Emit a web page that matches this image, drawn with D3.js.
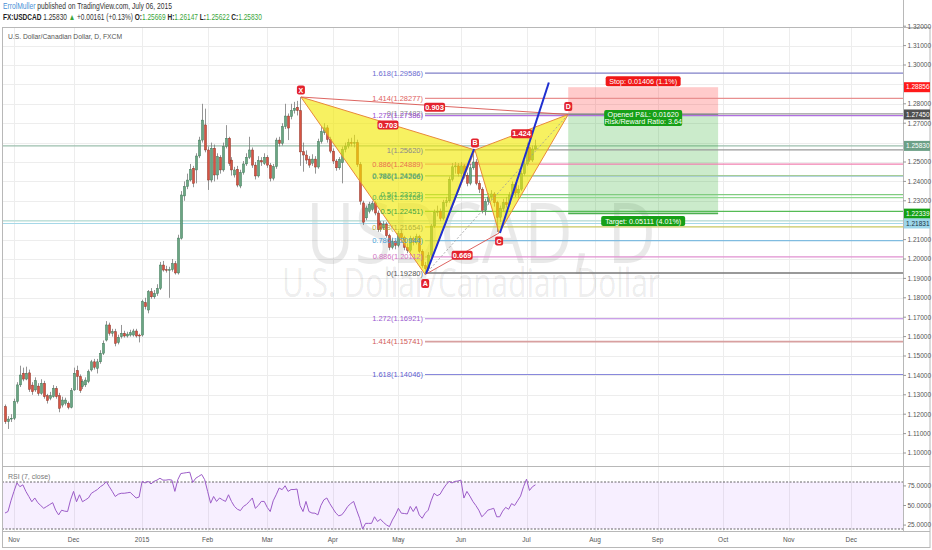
<!DOCTYPE html>
<html><head><meta charset="utf-8">
<script src="https://cdn.jsdelivr.net/npm/d3@7"></script>
<style>body{margin:0;background:#fff;} svg{display:block;font-family:"Liberation Sans",Arial,sans-serif;}</style>
</head><body><svg id="c" width="932" height="550"></svg>
<script>
// ---------- DATA ----------
const startDate = "2014-10-29"; // first bar (trading-day index 0)
const opens = [1.1239,1.1161,1.1175,1.1179,1.1265,1.1351,1.1411,1.1381,1.1413,1.1350,1.1325,1.1345,1.1307,1.1359,1.1295,1.1282,1.1290,1.1333,1.1295,1.1247,1.1256,1.1256,1.1235,1.1325,1.1425,1.1394,1.1342,1.1351,1.1368,1.1428,1.1470,1.1436,1.1470,1.1514,1.1582,1.1660,1.1617,1.1625,1.1569,1.1599,1.1617,1.1603,1.1608,1.1608,1.1629,1.1608,1.1608,1.1775,1.1737,1.1831,1.1805,1.1822,1.1848,1.1969,1.1945,1.1941,1.1945,1.1976,1.1928,1.2107,1.2325,1.2373,1.2407,1.2468,1.2459,1.2531,1.2613,1.2691,1.2562,1.2407,1.2571,1.2433,1.2524,1.2459,1.2579,1.2622,1.2510,1.2433,1.2462,1.2376,1.2445,1.2490,1.2524,1.2562,1.2484,1.2428,1.2507,1.2493,1.2524,1.2484,1.2416,1.2476,1.2613,1.2596,1.2682,1.2737,1.2734,1.2765,1.2782,1.2765,1.2553,1.2536,1.2515,1.2494,1.2515,1.2474,1.2605,1.2651,1.2676,1.2616,1.2556,1.2505,1.2470,1.2496,1.2565,1.2582,1.2600,1.2598,1.2600,1.2487,1.2289,1.2212,1.2246,1.2255,1.2289,1.2237,1.2185,1.2160,1.2180,1.2120,1.2060,1.2090,1.2070,1.2130,1.2110,1.2060,1.2045,1.2105,1.2085,1.2115,1.2040,1.1965,1.1950,1.2020,1.2170,1.2240,1.2245,1.2210,1.2290,1.2300,1.2410,1.2475,1.2480,1.2440,1.2480,1.2430,1.2390,1.2470,1.2500,1.2390,1.2360,1.2250,1.2295,1.2320,1.2335,1.2290,1.2215,1.2260,1.2290,1.2280,1.2330,1.2385,1.2340,1.2360,1.2440,1.2490,1.2575,1.2510,1.25669];
const highs = [1.1250,1.1190,1.1200,1.1280,1.1365,1.1450,1.1440,1.1445,1.1430,1.1365,1.1390,1.1360,1.1380,1.1372,1.1305,1.1315,1.1350,1.1345,1.1310,1.1290,1.1285,1.1265,1.1335,1.1440,1.1450,1.1405,1.1380,1.1390,1.1430,1.1480,1.1485,1.1485,1.1530,1.1580,1.1680,1.1672,1.1640,1.1640,1.1610,1.1660,1.1630,1.1625,1.1635,1.1640,1.1640,1.1615,1.1790,1.1800,1.1840,1.1850,1.1840,1.1870,1.1985,1.1990,1.1965,1.1960,1.2000,1.1990,1.2125,1.2350,1.2400,1.2440,1.2490,1.2480,1.2545,1.2630,1.2800,1.2775,1.2580,1.2600,1.2590,1.2545,1.2535,1.2600,1.2690,1.2630,1.2525,1.2475,1.2480,1.2460,1.2505,1.2545,1.2630,1.2575,1.2500,1.2530,1.2525,1.2545,1.2535,1.2495,1.2490,1.2625,1.2630,1.2700,1.2800,1.2750,1.2800,1.2810,1.2815,1.2835,1.2600,1.2560,1.2530,1.2540,1.2530,1.2620,1.2680,1.2700,1.2690,1.2630,1.2570,1.2515,1.2525,1.2580,1.2600,1.2620,1.2625,1.2640,1.2615,1.2500,1.2300,1.2275,1.2295,1.2300,1.2300,1.2250,1.2195,1.2195,1.2190,1.2130,1.2110,1.2100,1.2145,1.2150,1.2120,1.2080,1.2120,1.2115,1.2130,1.2125,1.2050,1.1985,1.2035,1.2180,1.2255,1.2275,1.2260,1.2305,1.2320,1.2425,1.2495,1.2500,1.2495,1.2500,1.2490,1.2445,1.2490,1.2562,1.2515,1.2405,1.2370,1.2310,1.2340,1.2355,1.2345,1.2300,1.2275,1.2310,1.2320,1.2345,1.2400,1.2395,1.2380,1.2455,1.2510,1.2600,1.2590,1.2585,1.26147];
const lows = [1.1150,1.1124,1.1160,1.1170,1.1255,1.1340,1.1370,1.1375,1.1315,1.1300,1.1315,1.1295,1.1300,1.1280,1.1255,1.1272,1.1285,1.1280,1.1210,1.1235,1.1245,1.1225,1.1230,1.1320,1.1325,1.1310,1.1330,1.1340,1.1360,1.1420,1.1430,1.1410,1.1460,1.1505,1.1575,1.1605,1.1600,1.1550,1.1560,1.1590,1.1595,1.1595,1.1600,1.1600,1.1595,1.1570,1.1600,1.1740,1.1720,1.1795,1.1795,1.1810,1.1840,1.1935,1.1930,1.1800,1.1935,1.1920,1.1920,1.2100,1.2300,1.2360,1.2400,1.2370,1.2390,1.2520,1.2600,1.2550,1.2356,1.2395,1.2400,1.2410,1.2440,1.2450,1.2570,1.2480,1.2430,1.2420,1.2370,1.2365,1.2435,1.2480,1.2515,1.2470,1.2410,1.2420,1.2480,1.2485,1.2470,1.2400,1.2405,1.2465,1.2580,1.2585,1.2670,1.2613,1.2720,1.2750,1.2740,1.2480,1.2450,1.2490,1.2470,1.2480,1.2440,1.2465,1.2595,1.2640,1.2600,1.2545,1.2490,1.2455,1.2460,1.2390,1.2550,1.2570,1.2580,1.2575,1.2475,1.2280,1.2175,1.2200,1.2235,1.2245,1.2225,1.2140,1.2140,1.2150,1.2110,1.2045,1.2050,1.2050,1.2060,1.2095,1.2045,1.2030,1.2035,1.2070,1.2075,1.2030,1.1955,1.1920,1.1940,1.2010,1.2160,1.2220,1.2195,1.2200,1.2270,1.2290,1.2400,1.2440,1.2425,1.2420,1.2415,1.2375,1.2380,1.2460,1.2380,1.2340,1.2235,1.2225,1.2280,1.2300,1.2270,1.2139,1.2190,1.2245,1.2265,1.2270,1.2320,1.2320,1.2315,1.2350,1.2430,1.2480,1.2500,1.2500,1.25622];
const closes = [1.1161,1.1175,1.1179,1.1265,1.1351,1.1402,1.1381,1.1411,1.1328,1.1316,1.1373,1.1307,1.1359,1.1290,1.1270,1.1295,1.1333,1.1290,1.1230,1.1273,1.1273,1.1235,1.1321,1.1411,1.1394,1.1321,1.1368,1.1376,1.1419,1.1470,1.1442,1.1470,1.1514,1.1565,1.1660,1.1617,1.1625,1.1565,1.1596,1.1617,1.1603,1.1613,1.1620,1.1629,1.1603,1.1603,1.1780,1.1754,1.1831,1.1805,1.1822,1.1848,1.1969,1.1943,1.1941,1.1945,1.1976,1.1928,1.2108,1.2330,1.2373,1.2407,1.2462,1.2390,1.2531,1.2613,1.2716,1.2562,1.2407,1.2571,1.2433,1.2527,1.2459,1.2579,1.2622,1.2493,1.2459,1.2459,1.2381,1.2445,1.2490,1.2524,1.2562,1.2484,1.2428,1.2507,1.2500,1.2524,1.2484,1.2416,1.2476,1.2613,1.2596,1.2682,1.2737,1.2675,1.2765,1.2777,1.2765,1.2552,1.2536,1.2510,1.2484,1.2515,1.2474,1.2605,1.2656,1.2676,1.2616,1.2556,1.2505,1.2470,1.2513,1.2565,1.2582,1.2600,1.2598,1.2600,1.2487,1.2298,1.2190,1.2263,1.2280,1.2285,1.2237,1.2151,1.2151,1.2180,1.2120,1.2060,1.2090,1.2070,1.2130,1.2110,1.2060,1.2045,1.2105,1.2085,1.2115,1.2040,1.1965,1.1950,1.2020,1.2170,1.2240,1.2245,1.2210,1.2290,1.2300,1.2410,1.2475,1.2480,1.2440,1.2480,1.2430,1.2390,1.2470,1.2500,1.2390,1.2360,1.2250,1.2295,1.2320,1.2335,1.2290,1.2215,1.2260,1.2290,1.2280,1.2330,1.2385,1.2340,1.2360,1.2440,1.2490,1.2575,1.2510,1.2567,1.25830];
const rsiValues = [40.4,42.3,56,68,78.8,74,76.4,68,61.5,54.8,59.6,53.6,50,46.4,48.8,51.2,53.6,44,38,44,42.8,42.3,57.2,68,54.8,63.7,54.8,57.2,59.6,65.6,68,70.4,74,76.4,80.5,74,68,61.5,64.4,65.6,65.6,66.2,66.8,63.2,59.6,60.8,80.8,78.8,80.8,77.6,80.8,82.4,84.8,82.4,82.4,83,82.4,68,83,90.8,91.4,92,92.5,79.5,84.8,87.2,89.6,83,68,53,61.5,55.2,59.6,57.2,55.2,63.7,55.2,48.8,45.2,43.5,48.8,51.2,55.2,59.6,46.4,50,55.2,55.2,47.6,42.3,56,63.7,72.3,70.2,75.2,68,70.4,70.4,71,50,42.3,55.2,42.3,40.4,40.2,38,50,57.2,59.6,52.4,46.4,40.4,36.8,38,42.8,48.8,52.4,55.2,44,33.7,20,27.2,27.2,27.2,35.6,29.6,32.5,28.4,25.2,23,31.5,38,46.4,40.2,39.8,39.2,48.8,42.3,48.8,38,33.7,40.2,44,56,65.6,62.5,64.4,71,76.4,80.8,78.8,80.8,81.2,82.4,59.5,68,62,55.2,50,44,35.6,39.2,44,45.2,46.4,35.6,35.6,42.8,47.6,45.2,52.4,50,56,62,74,83.6,69.2,74,76.4];

const monthLabels = ["Nov","Dec","2015","Feb","Mar","Apr","May","Jun","Jul","Aug","Sep","Oct","Nov","Dec"];
const monthDates  = ["2014-11-01","2014-12-01","2015-01-01","2015-02-01","2015-03-01","2015-04-01","2015-05-01","2015-06-01","2015-07-01","2015-08-01","2015-09-01","2015-10-01","2015-11-01","2015-12-01"];
const priceTicks = [1.10,1.11,1.12,1.13,1.14,1.15,1.16,1.17,1.18,1.19,1.20,1.21,1.22,1.23,1.24,1.25,1.26,1.27,1.28,1.29,1.30,1.31,1.32];
const rsiTicks = [75,50,25];
const rsiBands = [80,20];

// harmonic pattern X A B C D (bar index, price)
const patternNames = ["X","A","B","C","D"];
const patternIdx   = [99.3,141.0,157.7,165.8,189.0];
const patternPrice = [1.2835,1.1920,1.2562,1.2134,1.2745];
const ratioLabels = [{from:0,to:2,text:"0.703"},{from:0,to:4,text:"0.903"},{from:1,to:3,text:"0.669"},{from:2,to:4,text:"1.424"}];
// trend lines (bar index, price)
const blueLines = [[141.3,1.1925,157.4,1.2567],[166.1,1.2134,182.5,1.2910]];

// fib levels: label, price, text colour, line colour
const fibLabels = ["1.618(1.29586)","1.414(1.28277)","0(1.27482)","1.272(1.27386)","1(1.25620)","0.886(1.24889)","0.382(1.24304)","0.786(1.24266)","0.5(1.23323)","0.618(1.23168)","0.5(1.22451)","0.618(1.21654)","0.786(1.20944)","0.886(1.20112)","0(1.19280)","1.272(1.16921)","1.414(1.15741)","1.618(1.14046)"];
const fibPrices = [1.29586,1.28277,1.27482,1.27386,1.25620,1.24889,1.24304,1.24266,1.23323,1.23168,1.22451,1.21654,1.20944,1.20112,1.19280,1.16921,1.15741,1.14046];
const fibTextColors = ["#6b6bd0","#e06060","#8a8a8a","#9b4fd2","#8a8a8a","#e8704e","#8fb84a","#3f9a86","#4caf50","#58b058","#3fa43f","#b5b53a","#4a9fd8","#d070c0","#555555","#9b59d0","#d05a5a","#6060d0"];
const fibLineColors = ["#8080c8","#e89090","#9a9a9a","#b070e0","#9a9a9a","#f080b0","#a8d080","#9cc3d5","#80cc80","#90d890","#55bb55","#c8c860","#80bce0","#e090d0","#777777","#b880e0","#d8a0a0","#8888dc"];

// full width horizontal lines
const hLinePrices = [1.25830,1.21970,1.21831];
const hLineColors = ["#9cbfae","#b4dcd4","#a6d8e8"];

// position tool
const posStartIdx = 189, posEndIdx = 239.3;
const entryPrice = 1.27450, stopPrice = 1.28856, targetPrice = 1.22339;
const stopText = "Stop: 0.01406 (1.1%)";
const pnlText = ["Opened P&L: 0.01620","Risk/Reward Ratio: 3.64"];
const targetText = "Target: 0.05111 (4.01%)";

// axis highlight labels
const markPrices = [1.28856,1.27450,1.25830,1.22339,1.21831];
const markFill = ["#ff1a1a","#505050","#6c9f86","#14a014","#9cd6ea"];
const markText = ["#fff","#fff","#fff","#fff","#234"];

// ---------- LAYOUT ----------
const svg = d3.select("#c");
const paneL=2, paneR=903, paneT=27, paneB=466, rsiT=467, rsiB=531, outerR=930, outerB=548;
const x = d3.scaleLinear().domain([-5/2.98,(903-5)/2.98]).range([0,903]);
const y = d3.scaleLinear().domain([1.20-(paneB-259)/1940, 1.20+(259-paneT)/1940]).range([paneB,paneT]);
const ry = d3.scaleLinear().domain([20,80]).range([529,482]);

function tradingIndex(ds){
  const s=new Date(startDate+"T00:00:00Z"), d=new Date(ds+"T00:00:00Z");
  let n=0;
  for(let t=new Date(s); t<d; t.setUTCDate(t.getUTCDate()+1)){const w=t.getUTCDay(); if(w!==0&&w!==6) n++;}
  return n;
}
const monthIdx = monthDates.map(tradingIndex);

const defs = svg.append("defs");
defs.append("clipPath").attr("id","mainclip").append("rect").attr("x",paneL).attr("y",paneT).attr("width",paneR-paneL).attr("height",paneB-paneT);
defs.append("clipPath").attr("id","rsiclip").append("rect").attr("x",paneL).attr("y",rsiT).attr("width",paneR-paneL).attr("height",rsiB-rsiT);

svg.append("rect").attr("width",932).attr("height",550).attr("fill","#fff");

// header: text drawn at natural size then squeezed horizontally to the reference width
function fitted(x0,yb,width,fs,parts){
  const g=svg.append("g");
  const t=g.append("text").attr("x",0).attr("y",0).attr("font-size",fs);
  parts.forEach(([s,c,b])=>t.append("tspan").attr("fill",c).attr("font-weight",b?"bold":null).text(s));
  const w=t.node().getComputedTextLength();
  g.attr("transform",`translate(${x0},${yb}) scale(${width/w},1)`);
}
const gC="#3aa53a";
fitted(3,9,169,8.5,[["ErrolMuller","#4a8fd6",false],[" published on TradingView.com, July 06, 2015","#333",false]]);
fitted(3,19.5,259,8.5,[["FX:USDCAD","#222",true],[" 1.25830 ","#333",false],["▲","#3aa53a",false],[" +0.00161 (+0.13%) ","#333",false],["O:","#222",true],["1.25669 ",gC,false],["H:","#222",true],["1.26147 ",gC,false],["L:","#222",true],["1.25622 ",gC,false],["C:","#222",true],["1.25830",gC,false]]);

const main = svg.append("g").attr("clip-path","url(#mainclip)");
const rsiG = svg.append("g").attr("clip-path","url(#rsiclip)");

// grid
priceTicks.forEach(p=>main.append("line").attr("x1",paneL).attr("x2",paneR).attr("y1",Math.round(y(p))+0.5).attr("y2",Math.round(y(p))+0.5).attr("stroke","#ededed"));
monthIdx.forEach(i=>{
  const xx=Math.round(x(i))+0.5;
  main.append("line").attr("x1",xx).attr("x2",xx).attr("y1",paneT).attr("y2",paneB).attr("stroke","#ededed");
  rsiG.append("line").attr("x1",xx).attr("x2",xx).attr("y1",rsiT).attr("y2",rsiB).attr("stroke","#ededed");
});

// watermark
main.append("text").attr("x",481).attr("y",263).attr("text-anchor","middle").attr("font-size",84).attr("fill","#000").attr("fill-opacity",0.085).attr("font-family","'Open Sans',sans-serif").attr("textLength",350).attr("lengthAdjust","spacingAndGlyphs").text("USDCAD, D");
main.append("text").attr("x",471).attr("y",297).attr("text-anchor","middle").attr("font-size",40).attr("fill","#000").attr("fill-opacity",0.085).attr("font-family","'Open Sans',sans-serif").attr("textLength",378).attr("lengthAdjust","spacingAndGlyphs").text("U.S. Dollar/Canadian Dollar");

svg.append("text").attr("x",8).attr("y",38.5).attr("font-size",8).attr("fill","#555").attr("textLength",114).attr("lengthAdjust","spacingAndGlyphs").text("U.S. Dollar/Canadian Dollar, D, FXCM");

// full width horizontal lines
hLinePrices.forEach((p,k)=>main.append("line").attr("x1",paneL).attr("x2",paneR).attr("y1",y(p)).attr("y2",y(p)).attr("stroke",hLineColors[k]).attr("stroke-width",1.2));

// position tool boxes
const px0=x(posStartIdx), px1=x(posEndIdx);
main.append("rect").attr("x",px0).attr("y",y(stopPrice)).attr("width",px1-px0).attr("height",y(entryPrice)-y(stopPrice)).attr("fill","#ff3030").attr("fill-opacity",0.25);
main.append("rect").attr("x",px0).attr("y",y(entryPrice)).attr("width",px1-px0).attr("height",y(targetPrice)-y(entryPrice)).attr("fill","#30b030").attr("fill-opacity",0.25);

// fib lines
fibPrices.forEach((p,k)=>{
  main.append("line").attr("x1",425).attr("x2",paneR).attr("y1",y(p)).attr("y2",y(p)).attr("stroke",fibLineColors[k]).attr("stroke-width",(k===14||k===16)?1.6:1.2);
});
main.append("line").attr("x1",px0).attr("x2",px1).attr("y1",y(entryPrice)).attr("y2",y(entryPrice)).attr("stroke","#888").attr("stroke-width",1);
main.append("line").attr("x1",px0).attr("x2",px1).attr("y1",y(targetPrice)).attr("y2",y(targetPrice)).attr("stroke","#4caf50").attr("stroke-width",1.5);

// candles
const bars = d3.range(closes.length);
const up = i=>closes[i]>=opens[i];
main.append("g").selectAll("line").data(bars).join("line")
  .attr("x1",i=>Math.round(x(i))+0.5).attr("x2",i=>Math.round(x(i))+0.5)
  .attr("y1",i=>y(highs[i])).attr("y2",i=>y(lows[i])).attr("stroke","#7a7a7a").attr("stroke-width",0.8);
main.append("g").selectAll("rect").data(bars).join("rect")
  .attr("x",i=>Math.round(x(i))-0.6).attr("width",2.2)
  .attr("y",i=>y(Math.max(opens[i],closes[i])))
  .attr("height",i=>Math.max(0.8,Math.abs(y(opens[i])-y(closes[i]))))
  .attr("fill",i=>up(i)?"#6ba583":"#d75442")
  .attr("stroke",i=>up(i)?"#2f6b4a":"#7a2a1e").attr("stroke-width",0.4);

// harmonic pattern
const P = patternIdx.map((v,k)=>[x(v),y(patternPrice[k])]);
const tri = d3.line();
main.append("path").attr("d",tri([P[0],P[1],P[2]])+"Z").attr("fill","#f2e800").attr("fill-opacity",0.62).attr("stroke","#e8893a").attr("stroke-width",1);
main.append("path").attr("d",tri([P[2],P[3],P[4]])+"Z").attr("fill","#f2e800").attr("fill-opacity",0.62).attr("stroke","#e8893a").attr("stroke-width",1);
main.append("line").attr("x1",P[0][0]).attr("y1",P[0][1]).attr("x2",P[4][0]).attr("y2",P[4][1]).attr("stroke","#d9534f").attr("stroke-width",0.9);
main.append("line").attr("x1",P[1][0]).attr("y1",P[1][1]).attr("x2",P[3][0]).attr("y2",P[3][1]).attr("stroke","#d9534f").attr("stroke-width",0.9);
main.append("line").attr("x1",P[1][0]).attr("y1",P[1][1]).attr("x2",P[4][0]).attr("y2",P[4][1]).attr("stroke","#999").attr("stroke-width",0.8).attr("stroke-dasharray","2,2");

// blue lines
blueLines.forEach(b=>main.append("line").attr("x1",x(b[0])).attr("y1",y(b[1])).attr("x2",x(b[2])).attr("y2",y(b[3])).attr("stroke","#1f2fd0").attr("stroke-width",2));

function badge(g,cx,cy,text,w,h,fill,fs,bold){
  g.append("rect").attr("x",cx-w/2).attr("y",cy-h/2).attr("width",w).attr("height",h).attr("rx",2).attr("fill",fill);
  g.append("text").attr("x",cx).attr("y",cy+fs*0.36).attr("text-anchor","middle").attr("font-size",fs).attr("font-weight",bold?"bold":null).attr("fill","#fff").text(text);
}
// fib labels
fibLabels.forEach((t,k)=>main.append("text").attr("x",423).attr("y",y(fibPrices[k])+2.6).attr("text-anchor","end").attr("font-size",7.5).attr("fill",fibTextColors[k]).text(t));

// ratio labels
ratioLabels.forEach(r=>{
  const cx=(P[r.from][0]+P[r.to][0])/2, cy=(P[r.from][1]+P[r.to][1])/2+1.5;
  badge(main,cx,cy,r.text,21,9,"#e3232e",7.5,true);
});
const offs=[-7,9,-7,8,-8];
patternNames.forEach((n,k)=>badge(main,P[k][0],P[k][1]+offs[k],n,8,9,"#e3232e",7,true));

// position labels
const pcx=(px0+px1)/2;
badge(main,pcx,y(stopPrice)-6,stopText,75,10,"#f01818",7.2,false);
main.append("rect").attr("x",pcx-39).attr("y",y(entryPrice)-4.5).attr("width",78).attr("height",16).attr("rx",2).attr("fill","#17a017");
pnlText.forEach((t,k)=>main.append("text").attr("x",pcx).attr("y",y(entryPrice)+2.5+k*7.3).attr("text-anchor","middle").attr("font-size",7.2).attr("fill","#fff").text(t));
badge(main,pcx,y(targetPrice)+7.5,targetText,84,10,"#17a017",7.2,false);

// RSI pane
rsiG.append("rect").attr("x",paneL).attr("width",paneR-paneL).attr("y",ry(rsiBands[0])).attr("height",ry(rsiBands[1])-ry(rsiBands[0])).attr("fill","#9b30ff").attr("fill-opacity",0.08);
rsiBands.forEach(v=>rsiG.append("line").attr("x1",paneL).attr("x2",paneR).attr("y1",ry(v)).attr("y2",ry(v)).attr("stroke","#555").attr("stroke-dasharray","2,1.5").attr("stroke-width",0.9));
rsiG.append("path").datum(rsiValues).attr("d",d3.line().x((v,i)=>x(i)).y(v=>ry(v))).attr("fill","none").attr("stroke","#9c5cc8").attr("stroke-width",1);
svg.append("text").attr("x",8).attr("y",479).attr("font-size",7).attr("fill","#777").text("RSI (7, close)");

// frame
svg.append("rect").attr("x",2.5).attr("y",paneT+0.5).attr("width",outerR-2.5).attr("height",outerB-paneT-1).attr("fill","none").attr("stroke","#b8b8b8");
svg.append("line").attr("x1",paneR+0.5).attr("x2",paneR+0.5).attr("y1",0).attr("y2",rsiB).attr("stroke","#b8b8b8");
svg.append("line").attr("x1",2).attr("x2",outerR).attr("y1",paneB+0.5).attr("y2",paneB+0.5).attr("stroke","#b8b8b8");
svg.append("line").attr("x1",2).attr("x2",outerR).attr("y1",rsiB+0.5).attr("y2",rsiB+0.5).attr("stroke","#b8b8b8");

// price axis
const ax = svg.append("g").attr("font-size",6.5).attr("fill","#555");
priceTicks.forEach(p=>{
  const yy=y(p);
  if(yy<3||yy>paneB-3) return;
  if(markPrices.some(m=>Math.abs(y(m)-yy)<7)) return;
  ax.append("line").attr("x1",paneR).attr("x2",paneR+3).attr("y1",yy).attr("y2",yy).attr("stroke","#999");
  ax.append("text").attr("x",paneR+4.5).attr("y",yy+2.3).text(p.toFixed(5));
});
markPrices.forEach((p,k)=>{
  ax.append("rect").attr("x",paneR+1).attr("y",y(p)-5).attr("width",26).attr("height",10).attr("fill",markFill[k]);
  ax.append("text").attr("x",paneR+3).attr("y",y(p)+2.3).attr("fill",markText[k]).text(p.toFixed(5));
});
rsiTicks.forEach(v=>{
  const yy=Math.min(ry(v),526);
  ax.append("line").attr("x1",paneR).attr("x2",paneR+3).attr("y1",ry(v)).attr("y2",ry(v)).attr("stroke","#999");
  ax.append("text").attr("x",paneR+4.5).attr("y",yy+2.3).text(v.toFixed(4));
});
// time axis
monthIdx.forEach((i,k)=>ax.append("text").attr("x",x(i)).attr("y",542).attr("text-anchor","middle").text(monthLabels[k]));
</script></body></html>
